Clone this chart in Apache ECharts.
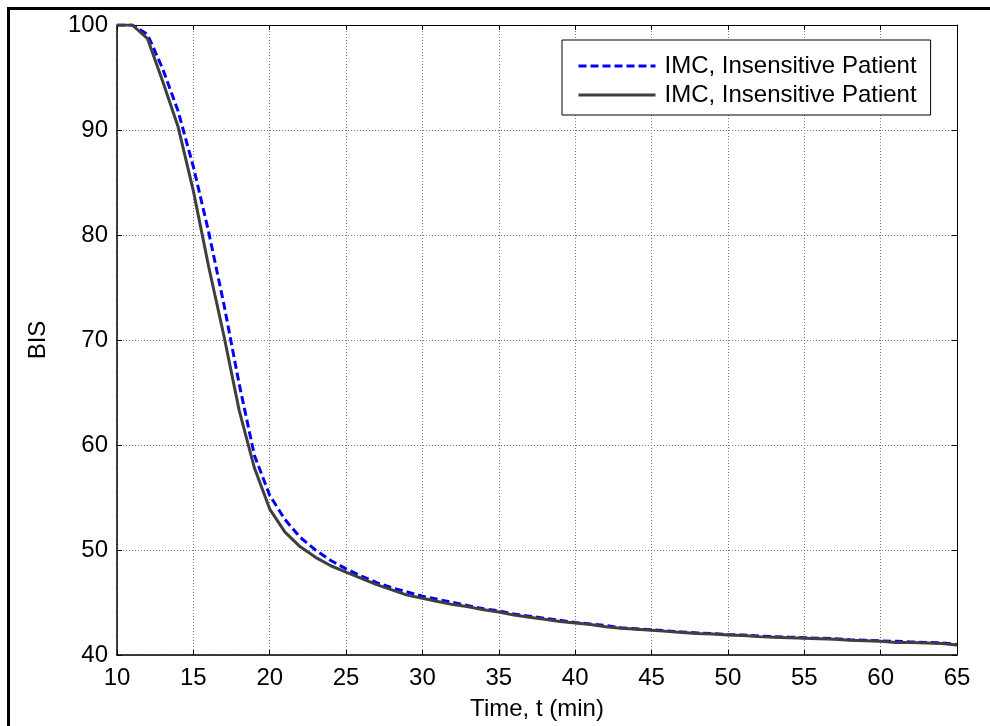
<!DOCTYPE html>
<html>
<head>
<meta charset="utf-8">
<script src="https://cdn.jsdelivr.net/npm/echarts@6/dist/echarts.min.js"></script>
<style>html,body{margin:0;padding:0;background:#fff;}#c{width:990px;height:726px;}</style>
</head>
<body>
<div id="c"></div>
<script>
var times = [10,11,12,13,14,15,16,17,18,19,20,21,22,23,24,25,26,27,28,29,30,31,32,33,34,35,36,37,38,39,40,41,42,43,44,45,46,47,48,49,50,51,52,53,54,55,56,57,58,59,60,61,62,63,64,65];
var imcBlue = [100,100,99.1,95.8,91.8,86.5,80.3,73.4,65.8,59.0,55.2,52.9,51.2,50.0,49.0,48.2,47.5,46.9,46.4,46.0,45.6,45.3,45.0,44.7,44.4,44.2,43.9,43.7,43.5,43.3,43.1,42.95,42.8,42.6,42.5,42.4,42.3,42.2,42.1,42.05,41.95,41.9,41.8,41.75,41.7,41.65,41.6,41.55,41.45,41.4,41.35,41.3,41.25,41.2,41.15,41.0];
var imcBlack = [100,100,98.7,94.6,90.3,84.2,77.0,70.4,63.3,57.8,53.9,51.7,50.3,49.3,48.5,47.9,47.3,46.7,46.2,45.7,45.4,45.1,44.8,44.6,44.3,44.1,43.8,43.6,43.4,43.2,43.05,42.9,42.7,42.55,42.45,42.35,42.25,42.15,42.05,42.0,41.9,41.85,41.75,41.7,41.65,41.6,41.55,41.5,41.4,41.35,41.3,41.2,41.2,41.15,41.1,40.95];
var seriesNames = ['IMC, Insensitive Patient','IMC, Insensitive Patient '];
var xTicks = [10,15,20,25,30,35,40,45,50,55,60,65];
var yTicks = [40,50,60,70,80,90,100];

function pairs(xs, ys){ return xs.map(function(x,i){ return [x, ys[i]]; }); }

var font = 'Liberation Sans, Arial, sans-serif';
var chart = echarts.init(document.getElementById('c'), null, {renderer:'canvas'});
var tickStyle = {show:true, inside:true, length:5, lineStyle:{color:'#000', width:1}};
var option = {
  animation:false,
  backgroundColor:'#fff',
  grid:{left:117, top:25, right:33, bottom:68, containLabel:false},
  legend:{
    data:[{name:seriesNames[0]},{name:seriesNames[1]}],
    orient:'vertical', left:562, top:40,
    backgroundColor:'#fff', borderColor:'#000', borderWidth:1, borderRadius:0,
    padding:[13,14,7,15],
    itemWidth:77, itemHeight:14, itemGap:3,
    itemStyle:{opacity:0},
    lineStyle:{width:3},
    textStyle:{fontFamily:font, fontSize:24, color:'#000', lineHeight:26, padding:[0,0,0,4]},
    formatter:function(n){ return n.trim(); }
  },
  xAxis:[{
    type:'value', min:10, max:65, interval:5, position:'bottom',
    name:'Time, t (min)', nameLocation:'middle', nameGap:42,
    nameTextStyle:{fontFamily:font, fontSize:24, color:'#000'},
    axisLine:{show:true, onZero:false, lineStyle:{color:'#000', width:1.5}},
    axisTick:tickStyle,
    axisLabel:{fontFamily:font, fontSize:24, color:'#000', margin:11},
    splitLine:{show:true, lineStyle:{color:'#777', type:[1,2], width:1}}
  },{
    type:'value', min:10, max:65, interval:5, position:'top',
    axisLine:{show:true, onZero:false, lineStyle:{color:'#000', width:1}},
    axisTick:tickStyle, axisLabel:{show:false}, splitLine:{show:false}
  }],
  yAxis:[{
    type:'value', min:40, max:100, interval:10, position:'left',
    name:'BIS', nameLocation:'middle', nameGap:67, nameRotate:90,
    nameTextStyle:{fontFamily:font, fontSize:24, color:'#000'},
    axisLine:{show:true, onZero:false, lineStyle:{color:'#000', width:1.5}},
    axisTick:tickStyle,
    axisLabel:{fontFamily:font, fontSize:24, color:'#000', margin:9},
    splitLine:{show:true, lineStyle:{color:'#777', type:[1,2], width:1}}
  },{
    type:'value', min:40, max:100, interval:10, position:'right',
    axisLine:{show:true, onZero:false, lineStyle:{color:'#000', width:1}},
    axisTick:tickStyle, axisLabel:{show:false}, splitLine:{show:false}
  }],
  series:[{
    name:seriesNames[0], type:'line', data:pairs(times, imcBlue),
    showSymbol:false, symbol:'none', smooth:false,
    lineStyle:{color:'#0000ff', width:3, type:[8,4]},
    itemStyle:{color:'#0000ff'}, z:2
  },{
    name:seriesNames[1], type:'line', data:pairs(times, imcBlack),
    showSymbol:false, symbol:'none', smooth:false,
    lineStyle:{color:'#3f3f3f', width:3, type:'solid'},
    itemStyle:{color:'#3f3f3f'}, z:3
  }],
  graphic:[{
    type:'rect', silent:true, z:100,
    shape:{x:8.5, y:8.5, width:1100, height:1100},
    style:{fill:'none', stroke:'#000', lineWidth:3}
  }]
};
chart.setOption(option);
</script>
</body>
</html>
